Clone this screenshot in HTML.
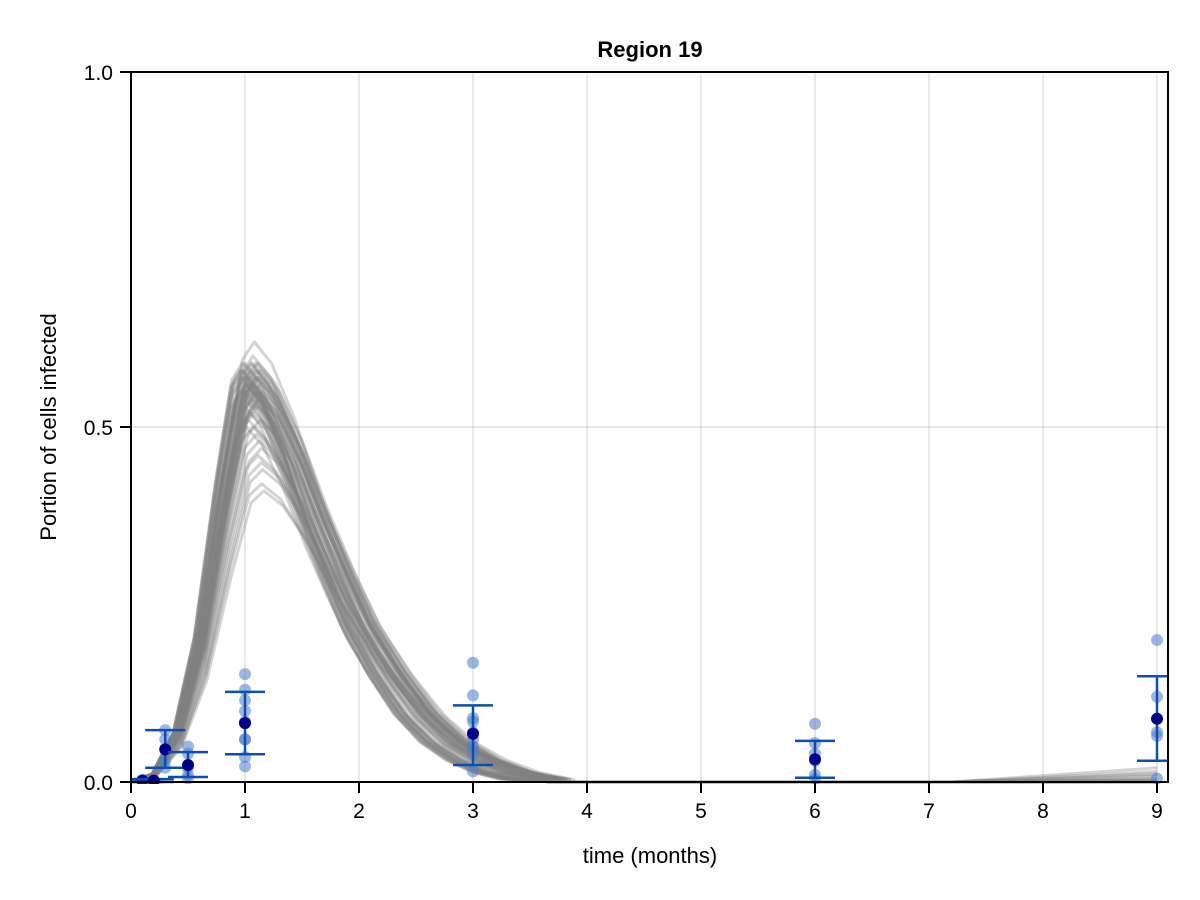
<!DOCTYPE html>
<html><head><meta charset="utf-8"><style>
html,body{margin:0;padding:0;background:#fff;}
svg{display:block;font-family:"Liberation Sans",sans-serif;}
</style></head><body>
<svg id="chart" width="1200" height="900">
<rect x="0" y="0" width="1200" height="900" fill="#fff"/>
<defs><clipPath id="clip"><rect x="131" y="72" width="1037" height="712"/></clipPath></defs>
<g id="grid"></g><g id="curves" clip-path="url(#clip)"></g><g id="pts" clip-path="url(#clip)"></g>
<rect x="131" y="72" width="1037" height="710" fill="none" stroke="#000" stroke-width="2"/>
<g id="axes"></g>
<text x="650" y="57" text-anchor="middle" font-size="22" font-weight="bold">Region 19</text>
<text x="650" y="863" text-anchor="middle" font-size="22">time (months)</text>
<text transform="translate(56,427) rotate(-90)" text-anchor="middle" font-size="22">Portion of cells infected</text>
</svg>
<script>
const xTicks=[0,1,2,3,4,5,6,7,8,9];
const yTicks=[0,0.5,1];
const yTickLabels=["0.0","0.5","1.0"];
const shapeT=[0,0.2,0.4,0.6,0.8,0.95,1.05,1.2,1.4,1.6,1.8,2.0,2.25,2.5,2.75,3.0,3.25,3.5,3.7,7.2,9];
const shapeV=[0,0.02,0.12,0.35,0.72,0.96,1,0.95,0.82,0.66,0.52,0.39,0.27,0.17,0.10,0.055,0.025,0.008,0,0,0];
const amps=[0.60,0.59,0.59,0.58,0.58,0.58,0.57,0.57,0.57,0.57,0.56,0.56,0.56,0.56,0.55,0.55,0.55,0.55,0.54,0.54,0.54,0.53,0.53,0.53,0.52,0.52,0.51,0.51,0.50,0.50,0.49,0.48,0.47,0.46,0.45,0.44,0.42,0.41,0.62,0.55,0.59,0.58,0.57,0.56,0.55,0.58,0.59,0.57,0.56,0.54,0.58,0.57,0.59,0.55,0.56,0.58,0.57,0.56,0.59,0.55];
const shifts=[0.02,-0.05,0.06,0,-0.06,0.08,0.04,-0.02,0.07,-0.08,0.01,0.05,-0.04,0.08,0,-0.03,0.06,-0.07,0.02,0.08,-0.05,0.04,-0.06,0.06,0,0.03,-0.02,0.08,0.02,-0.04,0.05,0.07,0.09,0.06,0.09,0.1,0.09,0.11,0.03,0.1,-0.07,0.04,-0.05,0.02,0.06,-0.08,0,0.05,-0.03,0.07,0.05,-0.06,0.01,0.03,-0.04,-0.07,0.07,-0.01,0.04,-0.05];
const tails=[0.02,0.015,0.012,0.01,0.008,0.005,0.004,0.003,0.002,0.002];
const obsT=[0.1,0.2,0.3,0.5,1,3,6,9];
const obsMean=[0.002,0.002,0.046,0.024,0.083,0.068,0.032,0.089];
const obsLo=[0,0,0.02,0.007,0.039,0.024,0.006,0.03];
const obsHi=[0.004,0.004,0.073,0.042,0.127,0.108,0.058,0.149];
const rawT=[0.1,0.1,0.2,0.2,0.3,0.3,0.3,0.3,0.5,0.5,0.5,0.5,0.5,1,1,1,1,1,1,1,1,1,3,3,3,3,3,3,3,3,3,6,6,6,6,6,6,9,9,9,9,9];
const rawV=[0.001,0.003,0.002,0.001,0.073,0.06,0.03,0.02,0.05,0.04,0.02,0.01,0.005,0.152,0.13,0.115,0.10,0.085,0.06,0.06,0.035,0.022,0.168,0.122,0.09,0.085,0.07,0.06,0.05,0.04,0.015,0.082,0.055,0.04,0.03,0.01,0.004,0.2,0.12,0.07,0.065,0.005];
const NS="http://www.w3.org/2000/svg";
const X=t=>131+t*114, Y=v=>782-v*710;
function mk(tag,attrs,parent){const e=document.createElementNS(NS,tag);for(const k in attrs)e.setAttribute(k,attrs[k]);parent.appendChild(e);return e;}
const grid=document.getElementById('grid'),axes=document.getElementById('axes'),cg=document.getElementById('curves'),pg=document.getElementById('pts');
xTicks.forEach(t=>{
 const g=mk('line',{x1:X(t),x2:X(t),y1:72,y2:782,stroke:'#000','stroke-opacity':0.12,'stroke-width':1.5},grid);
 
 
 const tk=mk('line',{x1:X(t),x2:X(t),y1:782,y2:793,stroke:'#000','stroke-width':2},axes);
 
 
 const l=mk('text',{x:X(t),y:818,'text-anchor':'middle','font-size':21},axes);l.textContent=t;
 
 
});
yTicks.forEach((v,i)=>{
 const g=mk('line',{x1:131,x2:1168,y1:Y(v),y2:Y(v),stroke:'#000','stroke-opacity':0.12,'stroke-width':1.5},grid);
 
 
 const tk=mk('line',{x1:120,x2:131,y1:Y(v),y2:Y(v),stroke:'#000','stroke-width':2},axes);
 
 
 const l=mk('text',{x:113,y:Y(v)+8,'text-anchor':'end','font-size':21},axes);l.textContent=yTickLabels[i];
 
 
});
amps.forEach((a,i)=>{
 const s=shifts[i];let d='';
 for(let j=0;j<shapeT.length;j++){
  let t=shapeT[j]; if(j>0&&t<3.6) t=t*(1+s);
  let v=shapeV[j]*a; if(j===shapeT.length-1) v=tails[i]||0;
  d+=(j?'L':'M')+X(t).toFixed(1)+','+Y(v).toFixed(1);
 }
 const p=mk('path',{d:d,fill:'none',stroke:'#808080','stroke-opacity':0.35,'stroke-width':3,'stroke-linejoin':'round'},cg);
 
 
});
rawT.forEach((t,i)=>{
 const c=mk('circle',{cx:X(t),cy:Y(rawV[i]),r:6,fill:'#4a7ecb','fill-opacity':0.55},pg);
 
 
});
obsT.forEach((t,i)=>{
 const x=X(t);
 const e=mk('path',{d:`M${x},${Y(obsLo[i])}V${Y(obsHi[i])}M${x-20},${Y(obsLo[i])}H${x+20}M${x-20},${Y(obsHi[i])}H${x+20}`,stroke:'#0b4fb0','stroke-width':2.5,fill:'none'},pg);
 
 
 const c=mk('circle',{cx:x,cy:Y(obsMean[i]),r:6,fill:'#00008b'},pg);
 
 
});
</script>
</body></html>
